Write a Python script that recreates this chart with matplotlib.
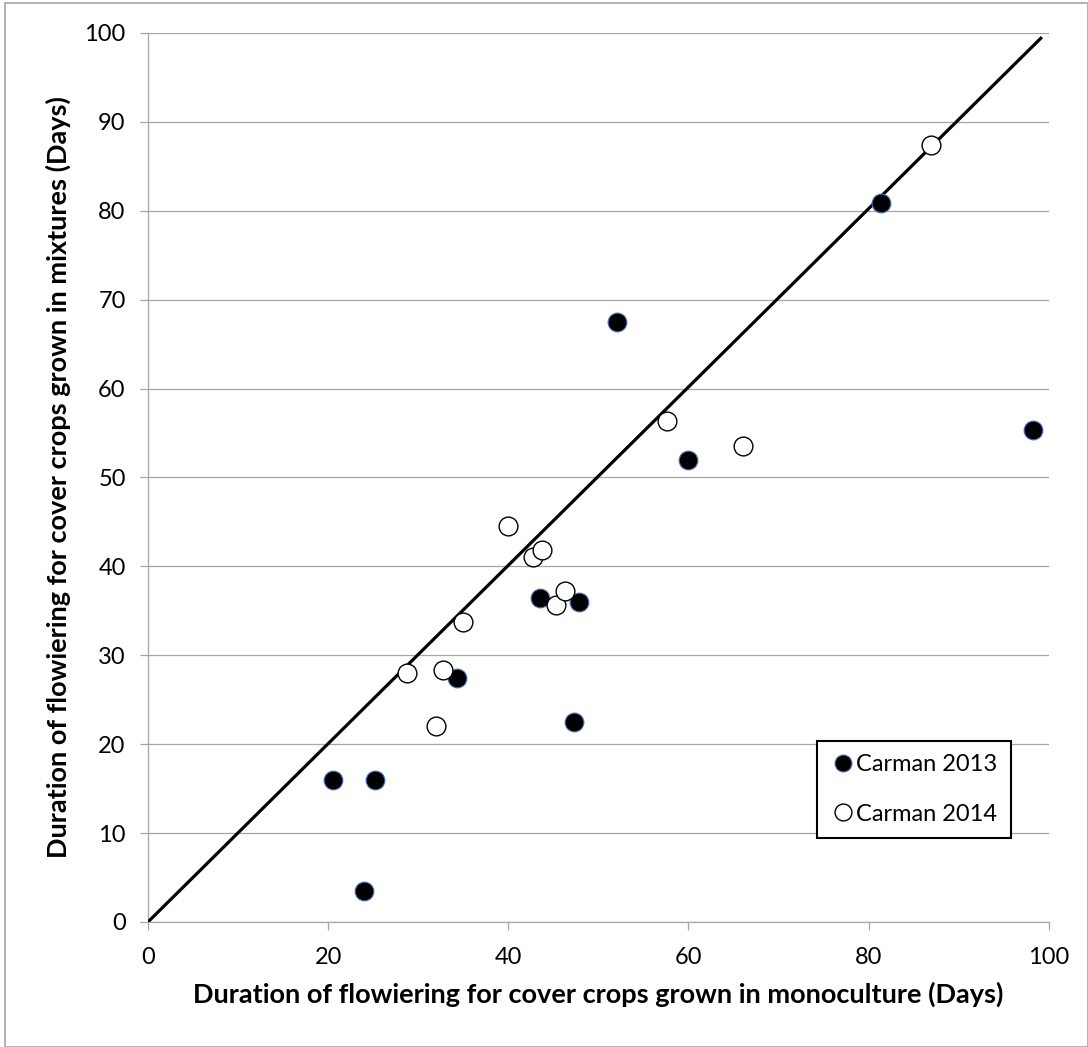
"""
Duration of flowering: monoculture vs mixtures, Carman 2013/2014
"""

import matplotlib
matplotlib.use('Agg')
import matplotlib.pyplot as plt
from matplotlib.patches import Rectangle

plt.rcParams['font.family'] = ['Lato', 'DejaVu Sans']

# Carman 2013 (filled)
x_2013 = [24.0, 20.5, 25.2, 34.3, 47.3, 43.5, 47.8, 52.1, 59.9, 81.4, 98.2]
y_2013 = [3.5, 16.0, 16.0, 27.5, 22.5, 36.4, 36.0, 67.5, 52.0, 80.9, 55.3]

# Carman 2014 (open)
x_2014 = [32.0, 28.7, 32.7, 35.0, 40.0, 42.7, 43.7, 45.3, 46.3, 57.6, 66.1, 86.9]
y_2014 = [22.0, 28.0, 28.3, 33.8, 44.5, 41.0, 41.8, 35.7, 37.2, 56.3, 53.5, 87.4]

# 1:1 line
line_x = [0, 99.1]
line_y = [0, 99.4]

grid_col = '#a6a6a6'

fig = plt.figure(figsize=(10.88, 10.47), dpi=100)
ax = fig.add_axes([0.136, 0.1194, 0.828, 0.8491])

ax.plot(line_x, line_y, color='black', lw=2.3, zorder=3)
ax.plot(x_2013, y_2013, 'o', ms=13.5, mfc='black', mec='#4472c4', mew=0.8,
        label='Carman 2013', zorder=4)
ax.plot(x_2014, y_2014, 'o', ms=13.5, mfc='white', mec='black', mew=1.0,
        label='Carman 2014', zorder=4)

ax.set_xlim(0, 100)
ax.set_ylim(0, 100)
ax.set_xticks(range(0, 101, 20))
ax.set_yticks(range(0, 101, 10))
ax.yaxis.grid(True, color=grid_col, lw=0.9)
ax.set_axisbelow(True)

for s in ['top', 'right']:
    ax.spines[s].set_visible(False)
for s in ['left', 'bottom']:
    ax.spines[s].set_color(grid_col)
    ax.spines[s].set_linewidth(0.9)

ax.tick_params(axis='both', direction='out', length=6, width=0.9,
               color=grid_col, labelsize=17)
ax.tick_params(axis='y', pad=10)
ax.tick_params(axis='x', pad=12)

ax.set_xlabel('Duration of flowiering for cover crops grown in monoculture (Days)',
              fontsize=19.5, fontweight='bold', labelpad=10)
ax.set_ylabel('Duration of flowiering for cover crops grown in mixtures (Days)',
              fontsize=19.5, fontweight='bold', labelpad=10)

leg = ax.legend(loc='lower left', bbox_to_anchor=(0.743, 0.095), fontsize=17,
                frameon=True, fancybox=False, edgecolor='black', framealpha=1,
                handletextpad=0.0, handlelength=1.1, labelspacing=1.2,
                borderpad=0.55, borderaxespad=0, markerscale=0.9)
leg.get_frame().set_linewidth(1.5)

# outer chart border
fig.patches.append(Rectangle((5 / 1088, 0), 1 - 5 / 1088, 1 - 3 / 1047,
                             transform=fig.transFigure, fill=False,
                             edgecolor=grid_col, lw=1.2))

fig.savefig('out.png', dpi=100)
